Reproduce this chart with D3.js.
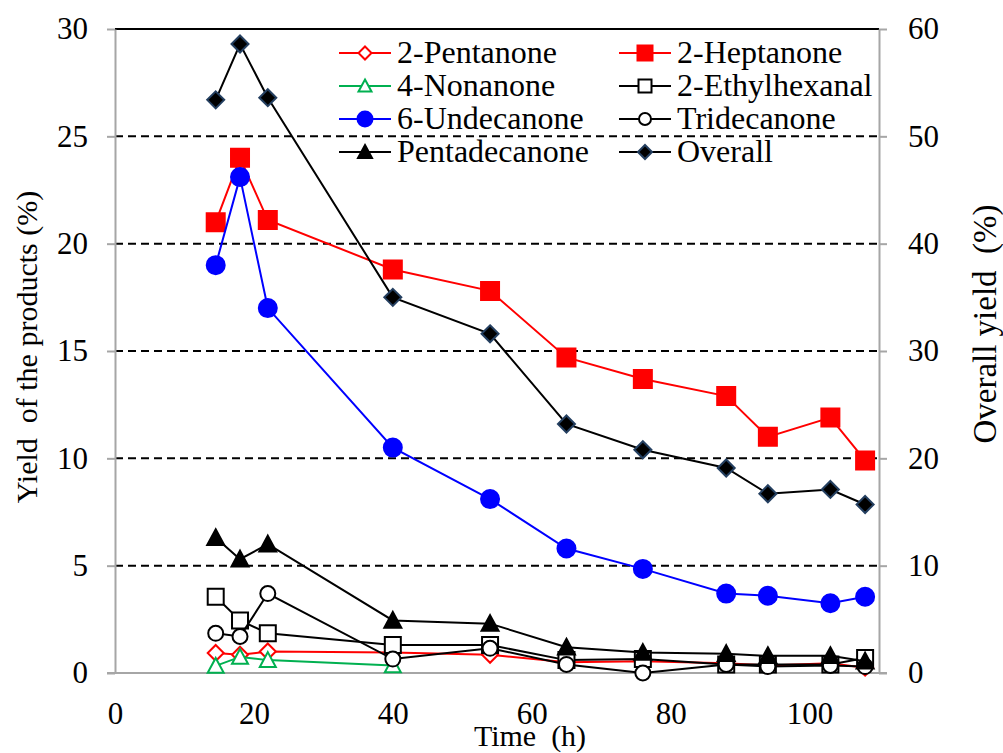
<!DOCTYPE html>
<html>
<head>
<meta charset="utf-8">
<script src="https://cdn.jsdelivr.net/npm/d3@7"></script>
<style>
  body { margin: 0; background: #fff; }
  svg { display: block; }
  svg text { font-family: "Liberation Serif", "Times New Roman", serif; }
</style>
</head>
<body>
<svg id="chart"></svg>
<script>
// Sampling times (h)
const times = [14.5, 18, 22, 40, 54, 65, 76, 88, 94, 103, 108];

// Yields (%)
const pentanone     = [0.93, 0.85, 1.0, 0.95, 0.85, 0.5, 0.55, 0.45, 0.35, 0.45, 0.25];
const heptanone     = [21.0, 24.0, 21.1, 18.8, 17.8, 14.7, 13.7, 12.9, 11.0, 11.9, 9.9];
const nonanone      = [0.33, 0.75, 0.6, 0.35];
const ethylhexanal  = [3.55, 2.45, 1.85, 1.3, 1.3, 0.6, 0.65, 0.4, 0.4, 0.4, 0.7];
const undecanone    = [19.0, 23.1, 17.0, 10.5, 8.1, 5.8, 4.85, 3.7, 3.6, 3.25, 3.55];
const tridecanone   = [1.85, 1.7, 3.7, 0.65, 1.15, 0.4, 0.0, 0.4, 0.3, 0.35, 0.3];
const pentadecanone = [6.3, 5.3, 6.0, 2.45, 2.3, 1.2, 0.95, 0.9, 0.8, 0.8, 0.55];
const overall       = [53.4, 58.6, 53.6, 35.0, 31.6, 23.2, 20.8, 19.1, 16.7, 17.1, 15.7];

const xTicks = [0, 20, 40, 60, 80, 100];
const yTicks = [0, 5, 10, 15, 20, 25, 30];
const y2Ticks = [0, 10, 20, 30, 40, 50, 60];

const series = [
  { name: "2-Pentanone",   values: pentanone,     color: "#ff0000", shape: "diamond",  fill: "#fff",    size: 16 },
  { name: "2-Heptanone",   values: heptanone,     color: "#ff0000", shape: "square",   fill: "#ff0000", size: 18 },
  { name: "4-Nonanone",    values: nonanone,      color: "#00b050", shape: "triangle", fill: "#fff",    size: 16 },
  { name: "2-Ethylhexanal",values: ethylhexanal,  color: "#000",    shape: "square",   fill: "#fff",    size: 16 },
  { name: "6-Undecanone",  values: undecanone,    color: "#0000ff", shape: "circle",   fill: "#0000ff", size: 18 },
  { name: "Tridecanone",   values: tridecanone,   color: "#000",    shape: "circle",   fill: "#fff",    size: 15 },
  { name: "Pentadecanone", values: pentadecanone, color: "#000",    shape: "triangle", fill: "#000",    size: 17 },
  { name: "Overall",       values: overall,       color: "#000",    shape: "diamond",  fill: "#000",    size: 17, stroke: "#243f60", right: true }
];

const width = 1003, height = 753;
const margin = { top: 29, right: 124, bottom: 80, left: 115 };
const serif = '"Liberation Serif", "Times New Roman", serif';

const svg = d3.select("#chart").attr("width", width).attr("height", height);

const x = d3.scaleLinear().domain([0, 110]).range([margin.left, width - margin.right]);
const y = d3.scaleLinear().domain([0, 30]).range([height - margin.bottom, margin.top]);
const y2 = d3.scaleLinear().domain([0, 60]).range([height - margin.bottom, margin.top]);

const axisGrey = "#a6a6a6";
const tickFont = 31;
const titleFont = 30;
const legendFont = 32;

// dashed gridlines
svg.append("g")
  .selectAll("line")
  .data(yTicks.filter(d => d > 0 && d < 30))
  .join("line")
  .attr("x1", x(0)).attr("x2", x(110))
  .attr("y1", d => y(d)).attr("y2", d => y(d))
  .attr("stroke", "#000").attr("stroke-width", 2)
  .attr("stroke-dasharray", "8,5");

// solid line at the top
svg.append("line")
  .attr("x1", x(0)).attr("x2", x(110))
  .attr("y1", y(30)).attr("y2", y(30))
  .attr("stroke", "#000").attr("stroke-width", 2);

// axes
function styleAxis(g) {
  g.attr("font-family", serif);
  g.select(".domain").attr("stroke", axisGrey).attr("stroke-width", 2);
  g.selectAll(".tick line").attr("stroke", axisGrey).attr("stroke-width", 2);
  g.selectAll(".tick text").attr("fill", "#000").style("font-size", tickFont + "px");
}

svg.append("g")
  .attr("transform", `translate(${x(0)},0)`)
  .call(d3.axisLeft(y).tickValues(yTicks).tickSize(8).tickSizeOuter(0).tickPadding(19))
  .call(styleAxis);

svg.append("g")
  .attr("transform", `translate(${x(110)},0)`)
  .call(d3.axisRight(y2).tickValues(y2Ticks).tickSize(8).tickSizeOuter(0).tickPadding(21))
  .call(styleAxis);

svg.append("g")
  .attr("transform", `translate(0,${y(0)})`)
  .call(d3.axisBottom(x).tickValues(xTicks).tickSize(0).tickSizeOuter(0).tickPadding(29))
  .call(styleAxis)
  .call(g => g.select(".domain").attr("d", `M${x(0) - 8},0H${x(110) + 8}`));

// axis titles
svg.append("text")
  .attr("transform", `translate(37,347) rotate(-90)`)
  .attr("text-anchor", "middle")
  .style("font-size", titleFont + "px")
  .text("Yield\u00a0 of the products (%)");

svg.append("text")
  .attr("transform", `translate(996,324) rotate(-90)`)
  .attr("text-anchor", "middle")
  .style("font-size", "33px")
  .text("Overall yield\u00a0 (%)");

svg.append("text")
  .attr("x", 530).attr("y", 746)
  .attr("text-anchor", "middle")
  .style("font-size", titleFont + "px")
  .text("Time\u00a0 (h)");

// marker path
function markerPath(shape, s) {
  const h = s / 2;
  if (shape === "square") return `M${-h},${-h}H${h}V${h}H${-h}Z`;
  if (shape === "diamond") return `M0,${-h}L${h},0L0,${h}L${-h},0Z`;
  if (shape === "triangle") return `M0,${-h}L${h},${h * 0.85}L${-h},${h * 0.85}Z`;
  return d3.arc()({ innerRadius: 0, outerRadius: h, startAngle: 0, endAngle: 2 * Math.PI });
}

const line = d3.line();

series.forEach(s => {
  const yy = s.right ? y2 : y;
  const pts = s.values.map((v, i) => [x(times[i]), yy(v)]);
  const g = svg.append("g");
  g.append("path")
    .attr("d", line(pts))
    .attr("fill", "none")
    .attr("stroke", s.color)
    .attr("stroke-width", 2);
  g.selectAll("path.mk")
    .data(pts)
    .join("path")
    .attr("class", "mk")
    .attr("transform", d => `translate(${d[0]},${d[1]})`)
    .attr("d", markerPath(s.shape, s.size))
    .attr("fill", s.fill)
    .attr("stroke", s.stroke || s.color)
    .attr("stroke-width", 2);
});

// legend
const legendX = [339, 619];
const legendY0 = 53, legendDy = 33;
const legend = svg.append("g");
series.forEach((s, i) => {
  const lx = legendX[i % 2];
  const ly = legendY0 + Math.floor(i / 2) * legendDy;
  const g = legend.append("g").attr("transform", `translate(${lx},${ly})`);
  g.append("line").attr("x1", 0).attr("x2", 52)
    .attr("stroke", s.color).attr("stroke-width", 2);
  g.append("path")
    .attr("transform", "translate(26,0)")
    .attr("d", markerPath(s.shape, s.size - 3))
    .attr("fill", s.fill)
    .attr("stroke", s.stroke || s.color)
    .attr("stroke-width", 2);
  g.append("text")
    .attr("x", 58).attr("y", 10)
    .style("font-size", legendFont + "px")
    .text(s.name);
});
</script>
</body>
</html>
